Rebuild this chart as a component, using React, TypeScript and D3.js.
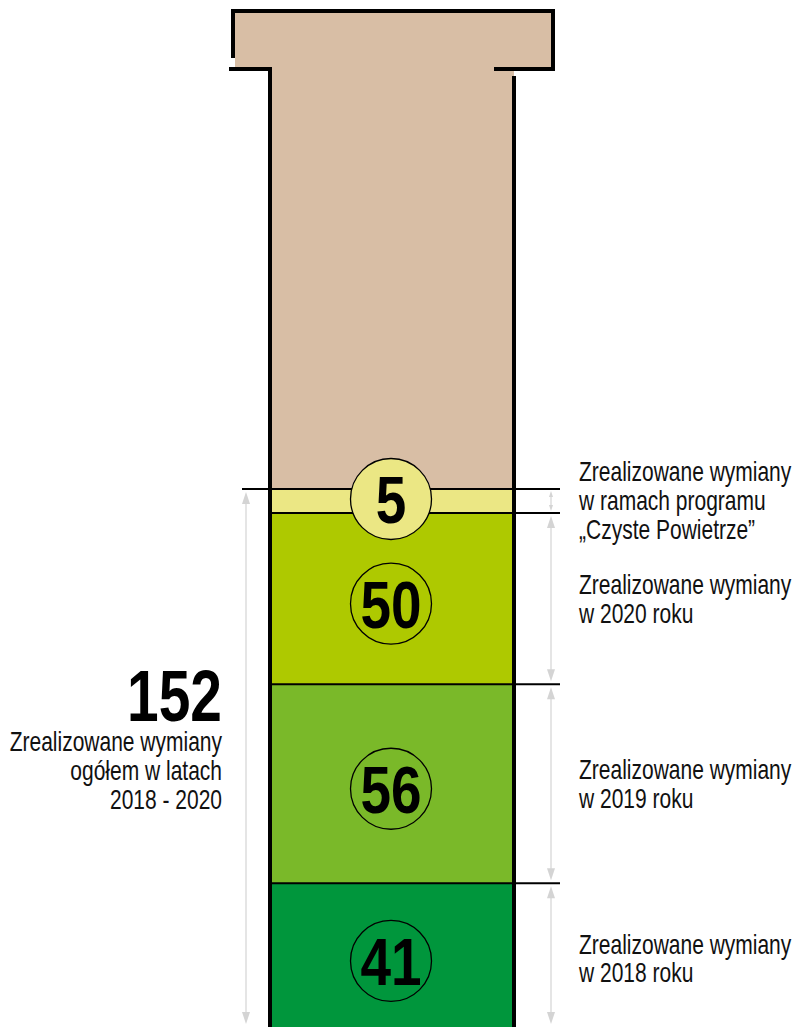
import React from "react";
import * as d3 from "d3";

// ---- data ----
const segmentKeys = ["2018", "2019", "2020", "CP"];
const segmentValues = [41, 56, 50, 5];
const totalValue = 152;
const totalLabelLines = ["Zrealizowane wymiany", "ogółem w latach", "2018 - 2020"];
const segmentLabelLines = [
  ["Zrealizowane wymiany", "w 2018 roku"],
  ["Zrealizowane wymiany", "w 2019 roku"],
  ["Zrealizowane wymiany", "w 2020 roku"],
  ["Zrealizowane wymiany", "w ramach programu", "„Czyste Powietrze”"],
];

// ---- styles / layout ----
const segmentColors = ["#00963c", "#7ab929", "#aec900", "#ebe784"];
const labelNudge = [2, 0, 0, -1];
const chimneyColor = "#d8bea5";
const arrowColor = "#d4d4d4";
const FONT = "'Liberation Sans', Arial, Helvetica, sans-serif";

type TProps = { x: number; y: number; sx: number; size: number; bold?: boolean; anchor?: string; text: string | number; fill?: string };
const CText = ({ x, y, sx, size, bold, anchor, text, fill }: TProps) => (
  <text
    transform={`translate(${x},${y}) scale(${sx},1)`}
    x={0}
    y={0}
    textAnchor={anchor || "start"}
    fontFamily={FONT}
    fontWeight={bold ? "bold" : "normal"}
    fontSize={size}
    fill={fill || "#111"}
  >
    {text}
  </text>
);

export default function App() {
  const W = 801;
  const H = 1027;
  const shaftL = 270;
  const shaftR = 514;
  const topY = 489;
  const pxPerUnit = 3.551;
  const minSegH = 24;

  const y = d3
    .scaleLinear()
    .domain([0, totalValue])
    .range([topY + totalValue * pxPerUnit, topY]);

  const stack = d3.cumsum(segmentValues);
  const segs = segmentValues.map((v, i) => {
    const start = i === 0 ? 0 : stack[i - 1];
    const end = stack[i];
    return { key: segmentKeys[i], v, y0: y(start), y1: y(end), color: segmentColors[i], lines: segmentLabelLines[i], nudge: labelNudge[i] };
  });
  // small segments get a minimum visible height (taken from the segment below)
  for (let i = segs.length - 1; i > 0; i--) {
    if (segs[i].y0 - segs[i].y1 < minSegH) {
      segs[i].y0 = segs[i].y1 + minSegH;
      segs[i - 1].y1 = segs[i].y0;
    }
  }

  const arrowX = 551;
  const leftArrowX = 246;
  const lh = 28.8;
  const labelSize = 28;
  const labelSx = 0.75;

  const arrow = (x: number, ya: number, yb: number, hw: number, hl: number, key: string) => (
    <g key={key}>
      <line x1={x} x2={x} y1={ya + hl * 0.6} y2={yb - hl * 0.6} stroke={arrowColor} strokeWidth={1.2} />
      <path d={d3.line()([[x, ya], [x - hw, ya + hl], [x + hw, ya + hl]]) + "Z"} fill={arrowColor} />
      <path d={d3.line()([[x, yb], [x - hw, yb - hl], [x + hw, yb - hl]]) + "Z"} fill={arrowColor} />
    </g>
  );

  return (
    <svg width={W} height={H} style={{ position: "absolute", left: 0, top: 0, display: "block" }}>
      <rect x={0} y={0} width={W} height={H} fill="#fff" />
      {/* chimney fill */}
      <rect x={235} y={13} width={316} height={56} fill={chimneyColor} />
      <rect x={shaftL} y={60} width={shaftR - shaftL} height={y(totalValue) - 60} fill={chimneyColor} />

      {/* segments */}
      {segs.map((s) => (
        <rect key={s.key} x={shaftL} y={s.y1} width={shaftR - shaftL} height={s.y0 - s.y1} fill={s.color} />
      ))}

      {/* boundary lines */}
      <line x1={242} x2={560} y1={y(totalValue)} y2={y(totalValue)} stroke="#000" strokeWidth={2} />
      {segs.slice(0, -1).map((s) => (
        <line key={"b" + s.key} x1={shaftL} x2={560} y1={s.y1} y2={s.y1} stroke="#000" strokeWidth={2} />
      ))}

      {/* chimney outline */}
      <path d="M233,58 V11 H553 V69" fill="none" stroke="#000" strokeWidth={4} />
      <path d="M229,69 H270 V1040" fill="none" stroke="#000" strokeWidth={4} />
      <path d="M494,69 H555" fill="none" stroke="#000" strokeWidth={4} />
      <path d="M514,76 V1040" fill="none" stroke="#000" strokeWidth={4} />

      {/* arrows */}
      {arrow(leftArrowX, y(totalValue) + 3, H - 3, 4, 12, "total")}
      {segs.map((s, i) =>
        i === segs.length - 1
          ? arrow(arrowX, s.y1 + 2, s.y0 - 2, 2, 6, "a" + s.key)
          : arrow(arrowX, s.y1 + 3, Math.min(s.y0 - 3, H - 3), 4, 12, "a" + s.key)
      )}

      {/* circles & values */}
      {segs.map((s) => {
        const h = s.y0 - s.y1;
        const cy = (s.y0 + s.y1) / 2 + (h > 100 ? 5 : -2);
        return (
          <g key={"c" + s.key}>
            <circle cx={391} cy={cy} r={40.5} fill={s.color} stroke="#000" strokeWidth={1.3} />
            <CText x={391} y={cy + 24} sx={0.82} size={67} bold anchor="middle" text={s.v} fill="#000" />
          </g>
        );
      })}

      {/* right labels */}
      {segs.map((s) => {
        const mid = (s.y0 + s.y1) / 2 + s.nudge;
        const n = s.lines.length;
        const first = mid - ((n - 1) * lh) / 2 + 10;
        return (
          <g key={"l" + s.key}>
            {s.lines.map((t, j) => (
              <CText key={j} x={579} y={first + j * lh} sx={labelSx} size={labelSize} text={t} />
            ))}
          </g>
        );
      })}

      {/* total */}
      <CText x={222} y={721} sx={0.79} size={72} bold anchor="end" text={totalValue} fill="#000" />
      {totalLabelLines.map((t, j) => (
        <CText key={j} x={222} y={751 + j * lh} sx={labelSx} size={labelSize} anchor="end" text={t} />
      ))}
    </svg>
  );
}
